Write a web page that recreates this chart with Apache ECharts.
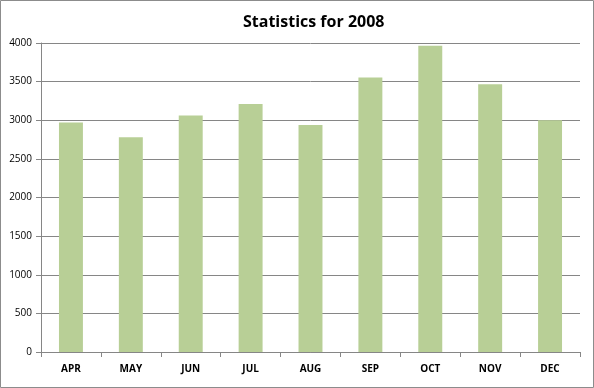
<!DOCTYPE html>
<html><head><meta charset="utf-8">
<script src="https://cdn.jsdelivr.net/npm/echarts@6/dist/echarts.min.js"></script>
<style>html,body{margin:0;padding:0;background:#fff}#c{width:594px;height:388px}</style>
</head><body><div id="c"></div>
<script>
const categories = ['APR','MAY','JUN','JUL','AUG','SEP','OCT','NOV','DEC'];
const values = [2970, 2780, 3060, 3210, 2940, 3555, 3965, 3465, 3000];
const yTicks = [0, 500, 1000, 1500, 2000, 2500, 3000, 3500, 4000];
const titleText = 'Statistics for 2008';

const chart = echarts.init(document.getElementById('c'), null, {renderer:'canvas'});
chart.setOption({
  animation: false,
  backgroundColor: '#fff',
  title: {text: titleText, left: 238, top: 9,
    textStyle: {fontFamily: 'Open Sans', fontSize: 16, fontWeight: 'bold', color: '#000'}},
  graphic: [{type:'rect', shape:{x:0.5,y:0.5,width:593,height:387},
    style:{fill:'none', stroke:'#8c8c8c', lineWidth:1}, silent:true}],
  grid: {left: 41, right: 14, top: 43, bottom: 36},
  xAxis: {type:'category', data: categories,
    axisLine:{lineStyle:{color:'#868686'}},
    axisTick:{show:true, inside:false, length:5, alignWithLabel:false, lineStyle:{color:'#868686'}},
    axisLabel:{fontFamily:'Open Sans', fontSize:10, fontWeight:'bold', color:'#000', margin:12}},
  yAxis: {type:'value', min: yTicks[0], max: yTicks[yTicks.length-1], interval: 500,
    axisLine:{show:true, lineStyle:{color:'#868686'}},
    axisTick:{show:true, length:5, lineStyle:{color:'#868686'}},
    splitLine:{lineStyle:{color:'#868686'}},
    axisLabel:{fontFamily:'Open Sans', fontSize:10, color:'#000', margin:9,
      formatter: v => String(v)}},
  series: [{type:'bar', data: values, barCategoryGap:'60%',
    itemStyle:{color:'#B8CF96'}}]
});
</script></body></html>
